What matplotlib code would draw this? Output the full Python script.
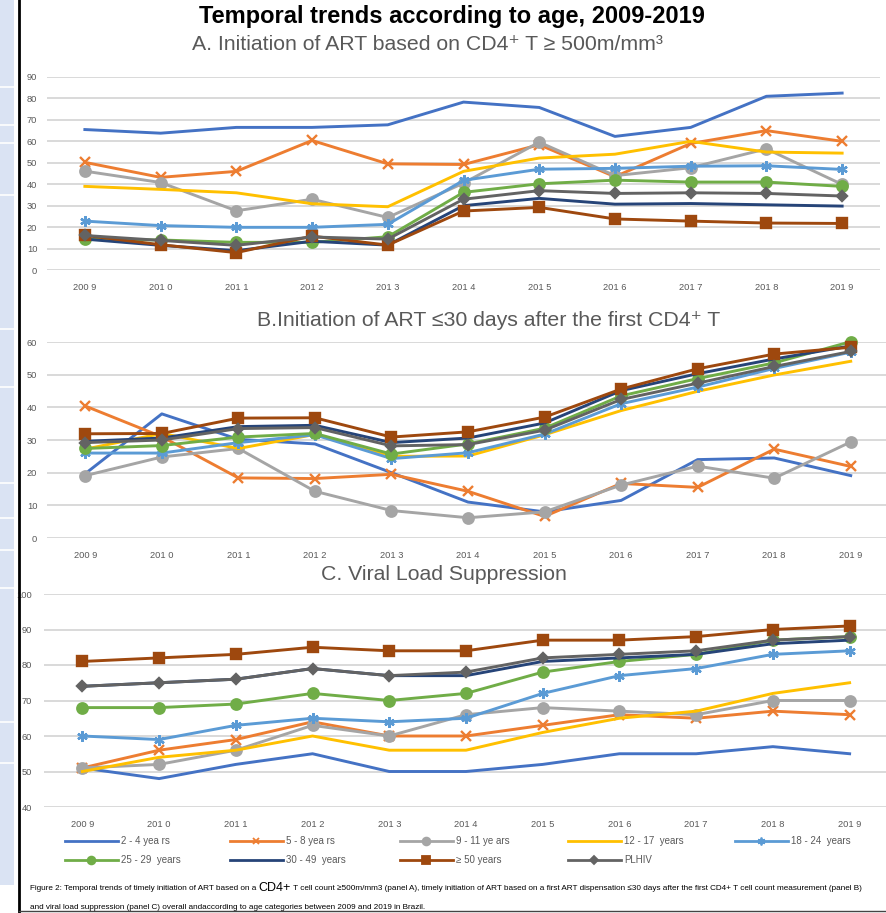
import matplotlib

matplotlib.use("Agg")
import matplotlib.pyplot as plt  # noqa: E402
from matplotlib.lines import Line2D  # noqa: E402
from matplotlib.patches import Rectangle  # noqa: E402

# ---- data ----
years = ["200 9", "201 0", "201 1", "201 2", "201 3", "201 4",
         "201 5", "201 6", "201 7", "201 8", "201 9"]
labels = ["2 - 4 yea rs", "5 - 8 yea rs", "9 - 11 ye ars", "12 - 17  years",
          "18 - 24  years", "25 - 29  years", "30 - 49  years", "\u2265 50 years",
          "PLHIV"]

# panel A: initiation of ART based on CD4 >= 500
a_2_4 = [65.5, 63.8, 66.5, 66.5, 67.7, 78.3, 75.8, 62.3, 66.5, 81.0, 82.5]
a_5_8 = [50.2, 43.2, 46.0, 60.4, 49.5, 49.2, 58.4, 43.5, 59.0, 65.0, 60.0]
a_9_11 = [46.1, 40.8, 27.6, 33.0, 24.5, 40.5, 59.6, 44.0, 47.7, 56.5, 39.9]
a_12_17 = [39.0, 37.6, 36.0, 30.9, 29.5, 46.0, 52.2, 54.0, 60.0, 55.0, 54.5]
a_18_24 = [22.8, 20.7, 19.9, 19.9, 21.3, 41.8, 47.0, 47.4, 48.4, 48.6, 46.9]
a_25_29 = [14.4, 14.0, 12.9, 12.9, 15.5, 36.2, 40.2, 41.9, 41.0, 41.0, 39.0]
a_30_49 = [14.4, 11.5, 9.0, 13.4, 11.6, 30.0, 33.4, 30.7, 31.0, 30.4, 29.8]
a_50 = [16.1, 11.8, 8.1, 15.8, 11.6, 27.5, 29.2, 23.8, 22.8, 21.9, 21.7]
a_plhiv = [16.1, 13.8, 11.5, 15.4, 14.4, 33.0, 37.0, 35.7, 36.0, 35.7, 34.5]

# panel B: initiation of ART <= 30 days
b_2_4 = [19.7, 38.0, 30.2, 28.8, 20.0, 11.0, 8.0, 11.5, 24.0, 24.5, 19.1]
b_5_8 = [40.4, 31.0, 18.4, 18.2, 19.5, 14.3, 6.6, 16.7, 15.5, 27.2, 21.9]
b_9_11 = [19.1, 24.8, 27.4, 14.3, 8.4, 6.2, 8.0, 16.2, 22.0, 18.3, 29.4]
b_12_17 = [27.2, 32.0, 27.4, 31.7, 25.0, 25.1, 31.6, 39.0, 44.9, 49.9, 54.1]
b_18_24 = [26.0, 26.0, 29.2, 31.6, 24.3, 26.1, 31.8, 41.1, 46.2, 51.9, 56.9]
b_25_29 = [27.4, 28.3, 30.9, 32.0, 25.7, 28.8, 33.6, 43.5, 48.8, 53.6, 60.1]
b_30_49 = [29.6, 30.6, 34.1, 34.5, 29.2, 30.6, 35.2, 45.1, 50.3, 54.8, 58.8]
b_50 = [31.9, 32.0, 36.7, 36.8, 30.9, 32.5, 37.0, 45.6, 51.8, 56.3, 58.4]
b_plhiv = [29.2, 30.0, 33.5, 33.8, 28.2, 28.6, 33.0, 42.4, 47.4, 52.5, 57.1]

# panel C: viral load suppression
c_2_4 = [51, 48, 52, 55, 50, 50, 52, 55, 55, 57, 55]
c_5_8 = [51, 56, 59, 64, 60, 60, 63, 66, 65, 67, 66]
c_9_11 = [51, 52, 56, 63, 60, 66, 68, 67, 66, 70, 70]
c_12_17 = [50, 54, 56, 60, 56, 56, 61, 65, 67, 72, 75]
c_18_24 = [60, 59, 63, 65, 64, 65, 72, 77, 79, 83, 84]
c_25_29 = [68, 68, 69, 72, 70, 72, 78, 81, 83, 87, 88]
c_30_49 = [74, 75, 76, 79, 77, 77, 81, 82, 83, 86, 87]
c_50 = [81, 82, 83, 85, 84, 84, 87, 87, 88, 90, 91]
c_plhiv = [74, 75, 76, 79, 77, 78, 82, 83, 84, 87, 88]

# ---- styles ----
colors = ["#4472C4", "#ED7D31", "#A5A5A5", "#FFC000", "#5B9BD5",
          "#70AD47", "#264478", "#9E480E", "#636363"]
markers = [None, "x", "o", None, (6, 2, 0), "o", None, "s", "D"]
msizes = [0, 6.5, 7.5, 0, 7.5, 7.5, 0, 6.8, 5.5]

NARROW = ["Liberation Sans Narrow", "Liberation Sans", "DejaVu Sans"]
TXT = "#595959"

W, H = 886, 913
fig = plt.figure(figsize=(W / 100, H / 100), dpi=100)


def px_box(x0, x1, ytop, ybot):
    return [x0 / W, 1 - ybot / H, (x1 - x0) / W, (ybot - ytop) / H]


def draw_panel(rect, series, ylim, yticks, pad):
    ax = fig.add_axes(rect)
    x = list(range(len(years)))
    for i, ys in enumerate(series):
        ax.plot(x, ys, color=colors[i], lw=2.1, marker=markers[i],
                ms=msizes[i], mew=1.7, mec=colors[i], mfc=colors[i],
                solid_joinstyle="round", zorder=3 + i, clip_on=False)
    ax.set_xlim(-0.5, len(years) - 0.5)
    ax.set_ylim(*ylim)
    ax.set_yticks(yticks)
    ax.set_xticks(x)
    ax.set_xticklabels(years)
    ax.yaxis.grid(True, color="#d9d9d9", lw=1.4)
    ax.set_axisbelow(True)
    for s in ax.spines.values():
        s.set_visible(False)
    ax.tick_params(length=0, colors=TXT, labelsize=6.7)
    ax.tick_params(axis="y", pad=pad)
    ax.tick_params(axis="x", pad=9)
    for t in ax.get_xticklabels() + ax.get_yticklabels():
        t.set_family(NARROW)
    return ax


ax_a = draw_panel(px_box(47, 880, 77, 270),
                  [a_2_4, a_5_8, a_9_11, a_12_17, a_18_24,
                   a_25_29, a_30_49, a_50, a_plhiv],
                  (0, 90), range(0, 91, 10), 7)
ax_b = draw_panel(px_box(47, 889, 342, 538),
                  [b_2_4, b_5_8, b_9_11, b_12_17, b_18_24,
                   b_25_29, b_30_49, b_50, b_plhiv],
                  (0, 60), range(0, 61, 10), 7)
ax_c = draw_panel(px_box(44, 888, 594, 807),
                  [c_2_4, c_5_8, c_9_11, c_12_17, c_18_24,
                   c_25_29, c_30_49, c_50, c_plhiv],
                  (40, 100), range(40, 101, 10), 8.5)

# ---- titles ----
fig.text(452 / W, 1 - 17 / H, "Temporal trends according to age, 2009-2019",
         ha="center", va="center", fontsize=17, fontweight="bold",
         family=NARROW)
fig.text(427 / W, 1 - 45 / H,
         "A. Initiation of ART based on CD4\u207a T \u2265 500m/mm\u00b3",
         ha="center", va="center", fontsize=15.3, color=TXT, family=NARROW)
fig.text(489 / W, 1 - 321 / H,
         "B.Initiation of ART \u226430 days after the first CD4\u207a T",
         ha="center", va="center", fontsize=15.3, color=TXT, family=NARROW)
fig.text(444 / W, 1 - 574 / H, "C. Viral Load Suppression",
         ha="center", va="center", fontsize=15.3, color=TXT, family=NARROW)

# ---- legend: one legend per column so x positions match ----
handles = [Line2D([], [], color=colors[i], lw=2.0, marker=markers[i],
                  ms=msizes[i] * 0.75, mew=1.3, mec=colors[i], mfc=colors[i])
           for i in range(len(labels))]
col_x = [65, 230, 400, 568, 735]
cols = [[0, 5], [1, 6], [2, 7], [3, 8], [4]]
for cx, idx in zip(col_x, cols):
    leg = fig.legend([handles[i] for i in idx], [labels[i] for i in idx],
                     loc="upper left", bbox_to_anchor=(cx / W, 1 - 836 / H),
                     frameon=False, handlelength=5.4,
                     handletextpad=0.4, borderpad=0, borderaxespad=0,
                     labelspacing=0.95, numpoints=1,
                     prop={"family": NARROW, "size": 7})
    for t in leg.get_texts():
        t.set_color(TXT)

# ---- caption ----
fig.canvas.draw()
r = fig.canvas.get_renderer()
cap_y = 1 - 888 / H
t1 = fig.text(30 / W, cap_y,
              "Figure 2: Temporal trends of timely initiation of ART based on a ",
              ha="left", va="center", fontsize=5.9, family=NARROW)
bb = t1.get_window_extent(r)
t2 = fig.text(bb.x1 / W, cap_y, "CD4+", ha="left", va="center",
              fontsize=9, family=NARROW)
bb = t2.get_window_extent(r)
fig.text(bb.x1 / W, cap_y,
         " T cell count \u2265500m/mm3 (panel A), timely initiation of ART based on "
         "a first ART dispensation \u226430 days after the first CD4+ T cell count "
         "measurement (panel B)",
         ha="left", va="center", fontsize=5.9, family=NARROW)
fig.text(30 / W, 1 - 907 / H,
         "and viral load suppression (panel C) overall andaccording to age "
         "categories between 2009 and 2019 in Brazil.",
         ha="left", va="center", fontsize=5.9, family=NARROW)

# ---- page decorations: blue margin strip and black frame ----
fig.add_artist(Rectangle((0, 1 - 885 / H), 14 / W, 885 / H,
                         transform=fig.transFigure, color="#dae3f3", lw=0))
for gy in [87, 125, 143, 195, 329, 387, 483, 518, 550, 588, 722, 763]:
    fig.add_artist(Line2D([0, 14 / W], [1 - gy / H] * 2,
                          transform=fig.transFigure, color="white", lw=1.2))
fig.add_artist(Line2D([19 / W, 19 / W], [0, 1], transform=fig.transFigure,
                      color="black", lw=2))
fig.add_artist(Line2D([19 / W, 1], [1 - 911 / H] * 2,
                      transform=fig.transFigure, color="#444444", lw=1))

fig.savefig("out.png", dpi=100)
